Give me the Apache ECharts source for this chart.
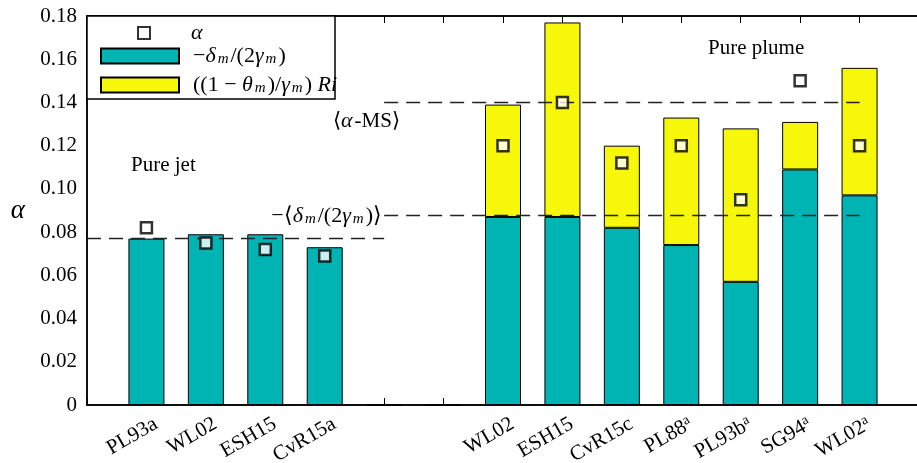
<!DOCTYPE html>
<html><head><meta charset="utf-8">
<script src="https://cdn.jsdelivr.net/npm/echarts@6/dist/echarts.min.js"></script>
<style>html,body{margin:0;padding:0;background:#fff}#c{width:917px;height:463px}</style>
</head><body><div id="c"></div>
<script>
// categories (empty strings are spacer slots)
var categories = ['', 'PL93a', 'WL02', 'ESH15', 'CvR15a', '', '', 'WL02', 'ESH15', 'CvR15c', 'PL88^a', 'PL93b^a', 'SG94^a', 'WL02^a', ''];
// -delta_m/(2 gamma_m)
var tealValues = ['-', 0.077, 0.079, 0.079, 0.073, 0, 0, 0.087, 0.087, 0.082, 0.074, 0.057, 0.109, 0.097, '-'];
// ((1-theta_m)/gamma_m) Ri
var yellowValues = ['-', '-', '-', '-', '-', '-', '-', 0.052, 0.090, 0.038, 0.059, 0.071, 0.022, 0.059, '-'];
// alpha
var alphaValues = ['-', 0.082, 0.075, 0.072, 0.069, '-', '-', 0.120, 0.140, 0.112, 0.120, 0.095, 0.150, 0.120, '-'];
var yTicks = ['0', '0.02', '0.04', '0.06', '0.08', '0.10', '0.12', '0.14', '0.16', '0.18'];
// reference lines: [value, startIndex, endIndex]
var jetMean = [0.077, 0, 5];
var alphaMS = [0.140, 5, 13];
var deltaMean = [0.088, 5, 13];

var FF = 'Liberation Serif';
var FS = 21;
var rich = {
  i: {fontFamily: FF, fontStyle: 'italic', fontSize: 22, lineHeight: 22, color: '#000', padding: [0, 2, 0, 0]},
  r: {fontFamily: FF, fontSize: 22, lineHeight: 22, color: '#000'},
  s: {fontFamily: FF, fontStyle: 'italic', fontSize: 15, lineHeight: 14, verticalAlign: 'bottom', color: '#000', padding: [0, 2, 0, 0]},
  x: {fontFamily: FF, fontSize: FS, lineHeight: 22, color: '#000'},
  sup: {fontFamily: FF, fontSize: 14, lineHeight: 14, verticalAlign: 'top', color: '#000'}
};
var names = {
  alpha: '{i|α}',
  teal: '{r|−}{i|δ}{s|m}{r|/(2}{i|γ}{s|m}{r|)}',
  yellow: '{r|((1 − }{i|θ}{s|m}{r|)/}{i|γ}{s|m}{r|) }{i|Ri}'
};
var dash = [14, 8];
function ml(v) { return [{coord: [v[1], v[0]]}, {coord: [v[2], v[0]]}]; }

var chart = echarts.init(document.getElementById('c'));
chart.setOption({
  animation: false,
  textStyle: {fontFamily: FF},
  grid: {left: 87, right: -2, top: 16, bottom: 58, outerBoundsMode: 'none', containLabel: false,
         show: true, borderColor: '#000', borderWidth: 1.5, backgroundColor: 'transparent'},
  legend: [
    {data: [{name: 'alpha', icon: 'rect'}], left: 137, top: 22, padding: 0, itemWidth: 12, itemHeight: 12,
     formatter: function (n) { return names[n]; },
     textStyle: {rich: rich, color: '#000', padding: [0, 0, 0, 36]}},
    {data: [{name: 'teal', icon: 'rect'}, {name: 'yellow', icon: 'rect'}], orient: 'vertical', left: 100, top: 45, padding: 0,
     itemWidth: 78, itemHeight: 15, itemGap: 7,
     formatter: function (n) { return names[n]; },
     textStyle: {rich: rich, color: '#000', padding: [0, 0, 0, 9]}}
  ],
  xAxis: [
    {type: 'category', data: categories, boundaryGap: false,
     axisLine: {onZero: false, lineStyle: {color: '#000', width: 1.5}},
     axisTick: {inside: true, length: 7, lineStyle: {color: '#000'}, interval: 0},
     axisLabel: {interval: 0, rotate: 30, margin: 23, padding: [0, -11, 0, 0], color: '#000', fontFamily: FF, fontSize: FS,
       formatter: function (v) { var p = v.split('^'); return p.length > 1 ? '{x|' + p[0] + '}{sup|' + p[1] + '}' : '{x|' + v + '}'; },
       rich: rich}},
    {type: 'category', data: categories, boundaryGap: false, position: 'top',
     axisLine: {onZero: false, lineStyle: {color: '#000', width: 1.5}},
     axisTick: {inside: true, length: 7, lineStyle: {color: '#000'}, interval: 0},
     axisLabel: {show: false}}
  ],
  yAxis: [
    {type: 'value', min: 0, max: 0.18, interval: 0.02,
     name: 'α', nameLocation: 'middle', nameRotate: 0, nameGap: 62,
     nameTextStyle: {fontFamily: FF, fontStyle: 'italic', fontSize: 27, color: '#000'},
     splitLine: {show: false},
     axisLine: {show: true, onZero: false, lineStyle: {color: '#000', width: 1.5}},
     axisTick: {inside: true, length: 6, lineStyle: {color: '#000'}},
     axisLabel: {color: '#000', fontFamily: FF, fontSize: FS, margin: 10,
       formatter: function (v) { return yTicks[Math.round(v / 0.02)]; }}},
    {type: 'value', min: 0, max: 0.18, interval: 0.02, position: 'right',
     splitLine: {show: false},
     axisLine: {show: true, onZero: false, lineStyle: {color: '#000', width: 1.5}},
     axisTick: {inside: true, length: 6, lineStyle: {color: '#000'}},
     axisLabel: {show: false}}
  ],
  series: [
    {name: 'teal', type: 'bar', stack: 's', data: tealValues, barWidth: 36,
     itemStyle: {color: '#00b4b4', borderColor: '#000', borderWidth: 1}},
    {name: 'yellow', type: 'bar', stack: 's', data: yellowValues, barWidth: 36,
     itemStyle: {color: '#f7f70a', borderColor: '#000', borderWidth: 1}},
    {name: 'alpha', type: 'scatter', data: alphaValues, symbol: 'rect', symbolSize: 11, z: 5,
     itemStyle: {color: '#fff', borderColor: '#000', borderWidth: 2.5},
     markLine: {silent: true, symbol: 'none', label: {show: false},
       lineStyle: {color: '#222', width: 1.3, type: dash},
       data: [ml(jetMean), ml(alphaMS), ml(deltaMean)]}}
  ],
  graphic: [
    {type: 'rect', z: 3, shape: {x: 87, y: 16, width: 248, height: 83}, style: {fill: '#fff', stroke: '#000', lineWidth: 1.5}},
    {type: 'text', z: 6, x: 131, y: 165, style: {text: 'Pure jet', font: FS + 'px "Liberation Serif"', fill: '#000', verticalAlign: 'middle'}},
    {type: 'text', z: 6, x: 708, y: 48, style: {text: 'Pure plume', font: FS + 'px "Liberation Serif"', fill: '#000', verticalAlign: 'middle'}},
    {type: 'text', z: 6, x: 333, y: 121, style: {text: '{x|⟨}{i|α}{x|-MS⟩}', rich: rich, fill: '#000', verticalAlign: 'middle'}},
    {type: 'text', z: 6, x: 382, y: 216, style: {text: '{r|−⟨}{i|δ}{s|m}{r|/(2}{i|γ}{s|m}{r|)⟩}', rich: rich, fill: '#000', align: 'right', verticalAlign: 'middle'}}
  ]
});
</script></body></html>
